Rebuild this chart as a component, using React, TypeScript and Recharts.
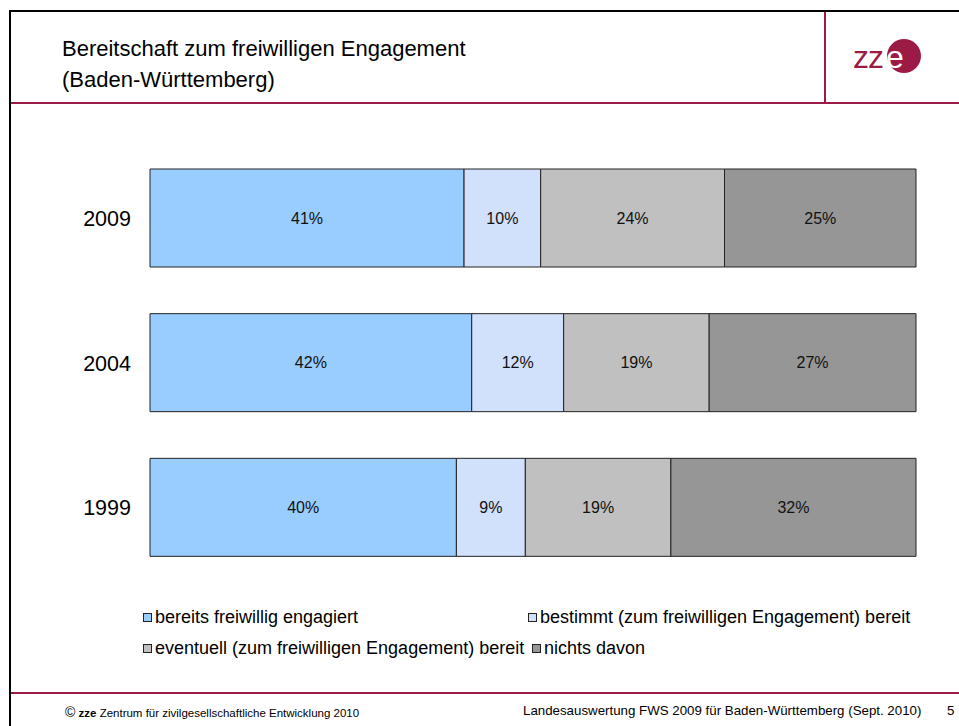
import React from 'react';
import { BarChart, Bar, XAxis, YAxis, LabelList } from 'recharts';

const years = ['2009', '2004', '1999'];
const bereits = [41, 42, 40];
const bestimmt = [10, 12, 9];
const eventuell = [24, 19, 19];
const nichts = [25, 27, 32];

const seriesKeys = ['bereits', 'bestimmt', 'eventuell', 'nichts'];
const seriesNames = [
  'bereits freiwillig engagiert',
  'bestimmt (zum freiwilligen Engagement) bereit',
  'eventuell (zum freiwilligen Engagement) bereit',
  'nichts davon',
];
const COLORS = ['#99CCFF', '#D1E0FB', '#C0C0C0', '#969696'];

const MAROON = '#9B1B45';
const FONT = '"Liberation Sans", Arial, sans-serif';

const data = years.map((year, i) => ({
  year,
  bereits: bereits[i],
  bestimmt: bestimmt[i],
  eventuell: eventuell[i],
  nichts: nichts[i],
}));

// legend positions roughly like the PowerPoint flow layout
const legendPos = [
  { left: 143, top: 607 },
  { left: 528, top: 607 },
  { left: 143, top: 638 },
  { left: 532, top: 638 },
];

const App: React.FC = () => {
  return (
    <div style={{ position: 'absolute', left: 0, top: 0, width: 959, height: 726, background: '#fff', fontFamily: FONT, overflow: 'hidden' }}>
      {/* frame lines */}
      <div style={{ position: 'absolute', left: 9, top: 10, width: 950, height: 2, background: '#000' }} />
      <div style={{ position: 'absolute', left: 9, top: 10, width: 2, height: 716, background: '#000' }} />
      <div style={{ position: 'absolute', left: 11, top: 102, width: 948, height: 2, background: MAROON }} />
      <div style={{ position: 'absolute', left: 824, top: 12, width: 2, height: 90, background: MAROON }} />
      <div style={{ position: 'absolute', left: 11, top: 692, width: 948, height: 2, background: MAROON }} />

      {/* title */}
      <div style={{ position: 'absolute', left: 62, top: 33, fontSize: 22, lineHeight: '31px', color: '#000' }}>
        Bereitschaft zum freiwilligen Engagement
        <br />
        (Baden-Württemberg)
      </div>

      {/* logo */}
      <svg style={{ position: 'absolute', left: 845, top: 30 }} width={90} height={55}>
        <text x={8} y={38} fontSize={32} fontFamily={FONT} fill={MAROON} letterSpacing={-1}>zz</text>
        <circle cx={59} cy={26} r={17} fill={MAROON} />
        <text x={41} y={38} fontSize={32} fontFamily={FONT} fill="#fff">e</text>
      </svg>

      <BarChart
        width={959}
        height={580}
        data={data}
        layout="vertical"
        margin={{ top: 146, right: 43, left: 0, bottom: 0 }}
        style={{ position: 'absolute', left: 0, top: 0 }}
      >
        <XAxis type="number" domain={[0, 100]} hide />
        <YAxis
          type="category"
          dataKey="year"
          width={150}
          axisLine={false}
          tickLine={false}
          tickSize={0}
          tickMargin={19}
          tick={{ fill: '#000', fontSize: 21.5, fontFamily: FONT }}
        />
        {seriesKeys.map((key, i) => (
          <Bar
            key={key}
            dataKey={key}
            name={seriesNames[i]}
            stackId="a"
            fill={COLORS[i]}
            stroke="#222"
            strokeWidth={1}
            barSize={98}
            isAnimationActive={false}
          >
            <LabelList
              dataKey={key}
              position="center"
              formatter={(v: number) => `${v}%`}
              style={{ fill: '#111', fontSize: 16, fontFamily: FONT }}
            />
          </Bar>
        ))}
      </BarChart>

      {/* legend */}
      {seriesNames.map((name, i) => (
        <div key={name} style={{ position: 'absolute', left: legendPos[i].left, top: legendPos[i].top, fontSize: 18, lineHeight: '21px', whiteSpace: 'nowrap', display: 'flex', alignItems: 'center' }}>
          <span style={{ display: 'inline-block', width: 7, height: 7, background: COLORS[i], border: '1px solid #222', marginRight: 3 }} />
          {name}
        </div>
      ))}

      {/* footer */}
      <div style={{ position: 'absolute', left: 65, top: 704, fontSize: 11.5, whiteSpace: 'nowrap' }}>
        <span style={{ fontSize: 14 }}>©</span> <b>zze</b> Zentrum für zivilgesellschaftliche Entwicklung 2010
      </div>
      <div style={{ position: 'absolute', left: 523, top: 703, fontSize: 13.3, whiteSpace: 'nowrap' }}>
        Landesauswertung FWS 2009 für Baden-Württemberg (Sept. 2010)
      </div>
      <div style={{ position: 'absolute', left: 947, top: 703, fontSize: 13.3 }}>5</div>
    </div>
  );
};

export default App;
